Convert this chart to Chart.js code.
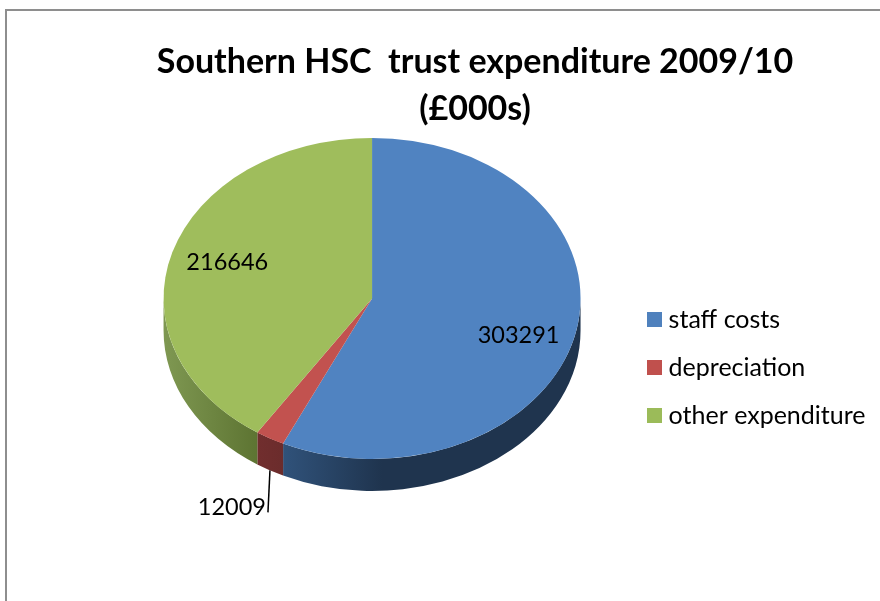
<!DOCTYPE html>
<html>
<head>
<meta charset="utf-8">
<style>
  html, body { margin: 0; padding: 0; background: #fff; }
  #frame { position: absolute; left: 5px; top: 9px; width: 875px; height: 592px;
           border-left: 2px solid #8e8e8e; border-top: 2px solid #8e8e8e; box-sizing: border-box; }
  #wrap { position: absolute; left: 0; top: 0; width: 880px; height: 601px; }
</style>
<script src="https://cdn.jsdelivr.net/npm/chart.js@4"></script>
</head>
<body>
<div id="frame"></div>
<div id="wrap"><canvas id="expenditureChart" width="880" height="601"></canvas></div>
<script>
const titleLines = ['Southern HSC  trust expenditure 2009/10', '(£000s)'];
const categories = ['staff costs', 'depreciation', 'other expenditure'];
const values = [303291, 12009, 216646];
const sliceColors = ['#5083c1', '#c2524f', '#9fbd5c'];
const legendColors = ['#4f81bd', '#c0504d', '#9bbb59'];
// gradient of the side wall, left to right, evenly spaced stops
const wallColors = [
    ['#30527a', '#1f344e', '#1f344e', '#1f344e'],
    ['#712e2e', '#6b2c2c'],
    ['#7f9852', '#5d7432']
];
// label shift from its polar position
const labelShift = [[-3, 11], [0, 0], [2, -2]];

const squash = 0.77;   // top ellipse height / width
const depth = 32;      // thickness of the pie
const textFont = 'Lato, Carlito, sans-serif';

function swatch(color) {
    const c = document.createElement('canvas');
    c.width = 15;
    c.height = 15;
    const g = c.getContext('2d');
    g.fillStyle = color;
    g.fillRect(0, 0, 15, 15);
    return c;
}

const pie3d = {
    id: 'pie3d',
    afterLayout(chart) {
        // title sits over the whole picture, legend sits low on the right
        chart.titleBlock.left += 475 - (chart.titleBlock.left + chart.titleBlock.right) / 2;
        chart.titleBlock.right = 2 * 475 - chart.titleBlock.left;
        chart.legend.top += 116;
        chart.legend.bottom += 116;
        chart.legend.left -= 4.5;
        chart.legend.right -= 4.5;
    },
    beforeDatasetsDraw(chart) {
        const ctx = chart.ctx;
        const arcs = chart.getDatasetMeta(0).data;
        const cx = arcs[0].x, cy = arcs[0].y, rx = arcs[0].outerRadius, ry = rx * squash;

        // side walls, only the front half of the pie shows
        arcs.forEach((arc, i) => {
            const from = Math.max(arc.startAngle, 0);
            const to = Math.min(arc.endAngle, Math.PI);
            if (to <= from) return;
            const x1 = cx + rx * Math.cos(to);
            const x2 = cx + rx * Math.cos(from);
            const grad = ctx.createLinearGradient(x1, 0, x2, 0);
            wallColors[i].forEach((color, k) => grad.addColorStop(k / (wallColors[i].length - 1), color));
            ctx.beginPath();
            ctx.ellipse(cx, cy, rx, ry, 0, from, to);
            ctx.ellipse(cx, cy + depth, rx, ry, 0, to, from, true);
            ctx.closePath();
            ctx.fillStyle = grad;
            ctx.fill();
        });

        // top face is drawn by the library, squashed
        ctx.save();
        ctx.translate(cx, cy);
        ctx.scale(1, squash);
        ctx.translate(-cx, -cy);
    },
    afterDatasetsDraw(chart) {
        const ctx = chart.ctx;
        ctx.restore();
        const arcs = chart.getDatasetMeta(0).data;
        ctx.save();
        ctx.fillStyle = '#000';
        ctx.font = '23.5px ' + textFont;
        ctx.textAlign = 'center';
        ctx.textBaseline = 'middle';
        arcs.forEach((arc, i) => {
            const mid = (arc.startAngle + arc.endAngle) / 2;
            const rx = arc.outerRadius, ry = rx * squash;
            if (values[i] / values.reduce((a, b) => a + b) < 0.05) {
                // small slice gets a leader line below the pie
                const px = arc.x + rx * Math.cos(mid);
                const py = arc.y + ry * Math.sin(mid) + depth;
                ctx.strokeStyle = '#000';
                ctx.lineWidth = 1.5;
                ctx.beginPath();
                ctx.moveTo(px, py);
                ctx.lineTo(px - 2, py + 42);
                ctx.stroke();
                ctx.textAlign = 'right';
                ctx.fillText(String(values[i]), px - 4, py + 37);
                ctx.textAlign = 'center';
            } else {
                ctx.fillText(String(values[i]),
                    arc.x + 0.735 * rx * Math.cos(mid) + labelShift[i][0],
                    arc.y + 0.735 * ry * Math.sin(mid) + labelShift[i][1]);
            }
        });
        ctx.restore();
    }
};

new Chart(document.getElementById('expenditureChart'), {
    type: 'pie',
    data: {
        labels: categories,
        datasets: [{
            data: values,
            backgroundColor: sliceColors,
            borderWidth: 0
        }]
    },
    options: {
        responsive: false,
        animation: false,
        radius: 208.5,
        layout: { padding: { left: 109.5, right: 0, top: 39, bottom: 137 } },
        plugins: {
            title: {
                display: true,
                text: titleLines,
                color: '#000',
                font: { family: textFont, size: 34, weight: 'bold', lineHeight: 1.38 },
                padding: { top: 0, bottom: 0 }
            },
            legend: {
                position: 'right',
                labels: {
                    color: '#000',
                    font: { family: textFont, size: 25 },
                    padding: 23,
                    usePointStyle: true,
                    pointStyleWidth: 3,
                    generateLabels: () => categories.map((name, i) => ({
                        text: name,
                        pointStyle: swatch(legendColors[i]),
                        fontColor: '#000',
                        index: i
                    }))
                }
            },
            tooltip: { enabled: false }
        }
    },
    plugins: [pie3d]
});
</script>
</body>
</html>
